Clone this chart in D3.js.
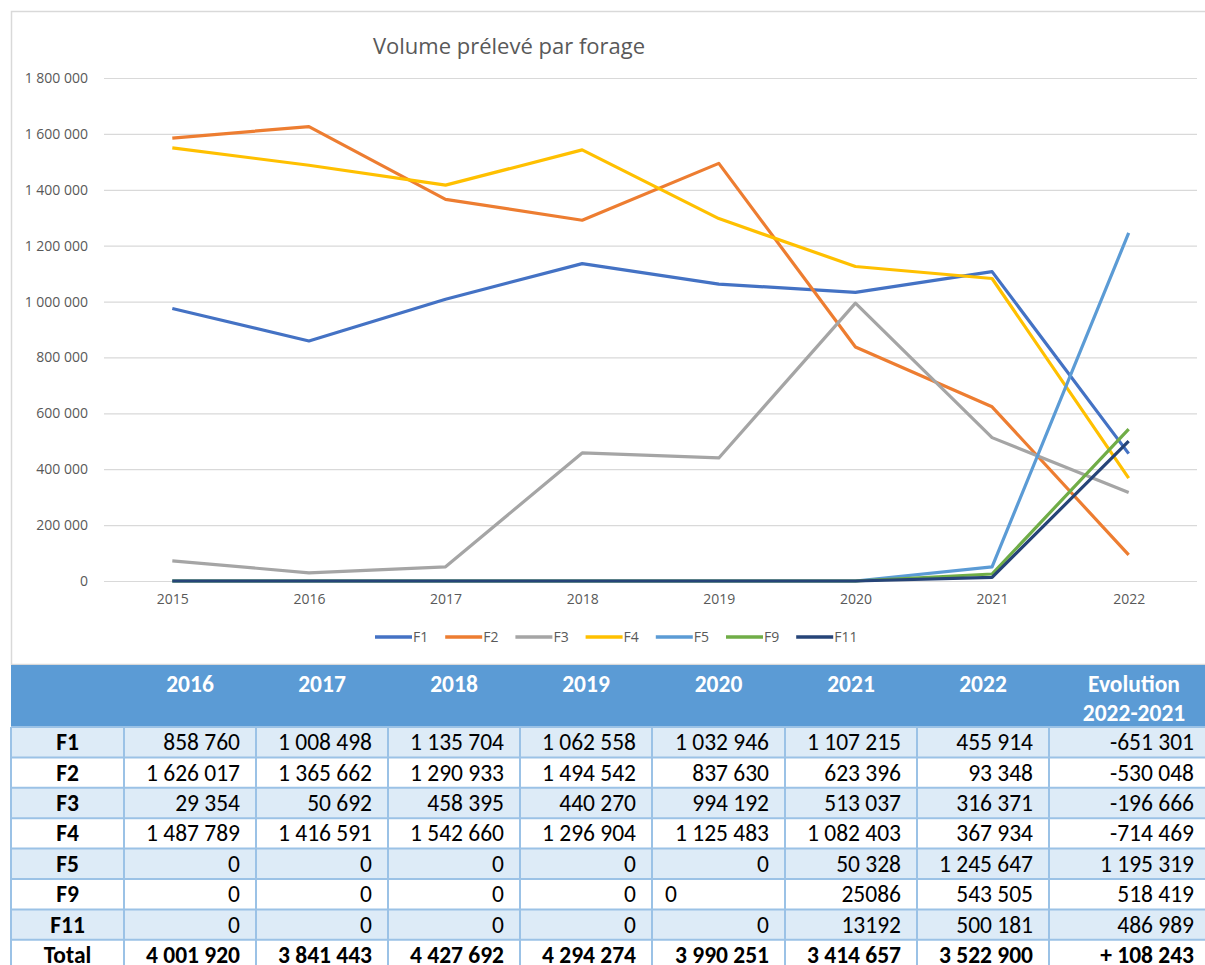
<!DOCTYPE html>
<html>
<head>
<meta charset="utf-8">
<script src="https://cdn.jsdelivr.net/npm/d3@7"></script>
<style>
  body { margin: 0; background: #fff; }
  svg { display: block; }
  .axis text { font-family: 'Open Sans', sans-serif; fill: #595959; }
  .tbl text { font-family: Carlito, Calibri, 'Open Sans', sans-serif; }
</style>
</head>
<body>
<div id="vis"></div>
<script>

// chart data
var years = [2015, 2016, 2017, 2018, 2019, 2020, 2021, 2022];
var seriesNames = ['F1', 'F2', 'F3', 'F4', 'F5', 'F9', 'F11'];
var F1 = [975000, 858760, 1008498, 1135704, 1062558, 1032946, 1107215, 455914];
var F2 = [1585000, 1626017, 1365662, 1290933, 1494542, 837630, 623396, 93348];
var F3 = [72000, 29354, 50692, 458395, 440270, 994192, 513037, 316371];
var F4 = [1550000, 1487789, 1416591, 1542660, 1296904, 1125483, 1082403, 367934];
var F5 = [0, 0, 0, 0, 0, 0, 50328, 1245647];
var F9 = [0, 0, 0, 0, 0, 0, 25086, 543505];
var F11 = [0, 0, 0, 0, 0, 0, 13192, 500181];
var seriesColors = ['#4472c4', '#ed7d31', '#a5a5a5', '#ffc000', '#5b9bd5', '#70ad47', '#264478'];
var yTicks = [0, 200000, 400000, 600000, 800000, 1000000, 1200000, 1400000, 1600000, 1800000];

// table data
var tableHeader = ['', '2016', '2017', '2018', '2019', '2020', '2021', '2022', 'Evolution|2022-2021'];
var tableRows = [
  ['F1', '858 760', '1 008 498', '1 135 704', '1 062 558', '1 032 946', '1 107 215', '455 914', '-651 301'],
  ['F2', '1 626 017', '1 365 662', '1 290 933', '1 494 542', '837 630', '623 396', '93 348', '-530 048'],
  ['F3', '29 354', '50 692', '458 395', '440 270', '994 192', '513 037', '316 371', '-196 666'],
  ['F4', '1 487 789', '1 416 591', '1 542 660', '1 296 904', '1 125 483', '1 082 403', '367 934', '-714 469'],
  ['F5', '0', '0', '0', '0', '0', '50 328', '1 245 647', '1 195 319'],
  ['F9', '0', '0', '0', '0', '0 ', '25086', '543 505', '518 419'],
  ['F11', '0', '0', '0', '0', '0', '13192', '500 181', '486 989'],
  ['Total', '4 001 920', '3 841 443', '4 427 692', '4 294 274', '3 990 251', '3 414 657', '3 522 900', '+ 108 243']
];

var width = 1205;
var height = 965;
var series = [F1, F2, F3, F4, F5, F9, F11];

var svg = d3.select('#vis').append('svg')
  .attr('width', width)
  .attr('height', height);

// chart frame
svg.append('rect')
  .attr('x', 11.5).attr('y', 11.5)
  .attr('width', 1210).attr('height', 653)
  .attr('fill', '#fff')
  .attr('stroke', '#d9d9d9')
  .attr('stroke-width', 1.5);

var plotLeft = 104, plotRight = 1197;

var x = d3.scalePoint()
  .domain(years)
  .range([plotLeft, plotRight])
  .padding(0.5);

var y = d3.scaleLinear()
  .domain([0, 1800000])
  .range([581, 78]);

var fmt = d3.formatLocale({ decimal: ',', thousands: ' ', grouping: [3], currency: ['', ''] }).format(',d');

var yAxis = svg.append('g')
  .attr('class', 'axis')
  .attr('transform', 'translate(' + plotLeft + ',0)')
  .call(d3.axisLeft(y).tickValues(yTicks).tickFormat(fmt)
    .tickSize(-(plotRight - plotLeft)).tickPadding(16));
yAxis.select('.domain').remove();
yAxis.selectAll('line').attr('stroke', '#d9d9d9').attr('stroke-width', 1.2);
yAxis.selectAll('text').style('font-size', '14px');

var xAxis = svg.append('g')
  .attr('class', 'axis')
  .attr('transform', 'translate(0,' + y(0) + ')')
  .call(d3.axisBottom(x).tickSize(0).tickPadding(13));
xAxis.select('.domain').remove();
xAxis.selectAll('text').style('font-size', '14px');

// title
svg.append('text')
  .attr('x', 509).attr('y', 54)
  .attr('text-anchor', 'middle')
  .style('font-family', "'Open Sans', sans-serif")
  .style('font-size', '22px')
  .attr('fill', '#595959')
  .text('Volume prélevé par forage');

var line = d3.line()
  .x(function (d, i) { return x(years[i]); })
  .y(function (d) { return y(d); });

svg.append('g').selectAll('path')
  .data(series)
  .enter().append('path')
  .attr('d', line)
  .attr('fill', 'none')
  .attr('stroke', function (d, i) { return seriesColors[i]; })
  .attr('stroke-width', 3.2)
  .attr('stroke-linejoin', 'round');

// legend
var legend = svg.append('g').selectAll('g')
  .data(seriesNames)
  .enter().append('g')
  .attr('transform', function (d, i) { return 'translate(' + (375 + i * 70.2) + ',637)'; });

legend.append('line')
  .attr('x1', 0).attr('x2', 37)
  .attr('stroke', function (d, i) { return seriesColors[i]; })
  .attr('stroke-width', 3.5);

legend.append('text')
  .attr('x', 38).attr('y', 5)
  .style('font-family', "'Open Sans', sans-serif")
  .style('font-size', '14px')
  .attr('fill', '#595959')
  .text(function (d) { return d; });

// table
var colX = [11, 124, 256, 388, 520, 652, 785, 917, 1049, 1215];
var headTop = 665, headH = 62, rowH = 30.4;
var tbl = svg.append('g').attr('class', 'tbl');

tbl.append('rect')
  .attr('x', colX[0]).attr('y', headTop)
  .attr('width', colX[colX.length - 1] - colX[0]).attr('height', headH)
  .attr('fill', '#5b9bd5');

tableHeader.forEach(function (h, c) {
  if (!h) return;
  var parts = h.split('|');
  var cx = c === 8 ? 1134 : (colX[c] + colX[c + 1]) / 2;
  parts.forEach(function (p, k) {
    tbl.append('text')
      .attr('x', cx).attr('y', headTop + 27 + k * 29)
      .attr('text-anchor', 'middle')
      .attr('fill', '#fff')
      .style('font-size', '23.5px')
      .style('font-weight', 'bold')
      .text(p);
  });
});

var rowsG = tbl.selectAll('g.row')
  .data(tableRows)
  .enter().append('g')
  .attr('class', 'row')
  .attr('transform', function (d, r) { return 'translate(0,' + (headTop + headH + r * rowH) + ')'; });

rowsG.append('rect')
  .attr('x', colX[0]).attr('y', 0)
  .attr('width', colX[colX.length - 1] - colX[0]).attr('height', rowH)
  .attr('fill', function (d, r) { return (r % 2 === 0 && r < 7) ? '#ddebf7' : '#fff'; });

rowsG.each(function (row, r) {
  var g = d3.select(this);
  var bold = r === tableRows.length - 1;
  row.forEach(function (cell, c) {
    var t = g.append('text')
      .attr('y', rowH / 2 + 8)
      .attr('fill', '#000')
      .style('font-size', '23.5px')
      .style('font-weight', (c === 0 || bold) ? 'bold' : 'normal');
    if (c === 0) {
      t.attr('x', (colX[0] + colX[1]) / 2).attr('text-anchor', 'middle');
    } else if (cell !== cell.trim()) {
      // left aligned cell in the source sheet
      t.attr('x', colX[c] + 13).attr('text-anchor', 'start');
    } else {
      var rx = c === 8 ? 1194 : colX[c + 1] - 16;
      t.attr('x', rx).attr('text-anchor', 'end');
    }
    t.text(cell.trim());
  });
});

// grid lines of the table body
var bodyTop = headTop + headH;
var bodyBottom = bodyTop + tableRows.length * rowH;
d3.range(tableRows.length + 1).forEach(function (r) {
  tbl.append('line')
    .attr('x1', colX[0]).attr('x2', colX[colX.length - 1])
    .attr('y1', bodyTop + r * rowH).attr('y2', bodyTop + r * rowH)
    .attr('stroke', '#9bc2e6').attr('stroke-width', 2);
});
colX.forEach(function (cx) {
  tbl.append('line')
    .attr('x1', cx).attr('x2', cx)
    .attr('y1', bodyTop).attr('y2', bodyBottom)
    .attr('stroke', '#9bc2e6').attr('stroke-width', 2);
});

</script>
</body>
</html>
